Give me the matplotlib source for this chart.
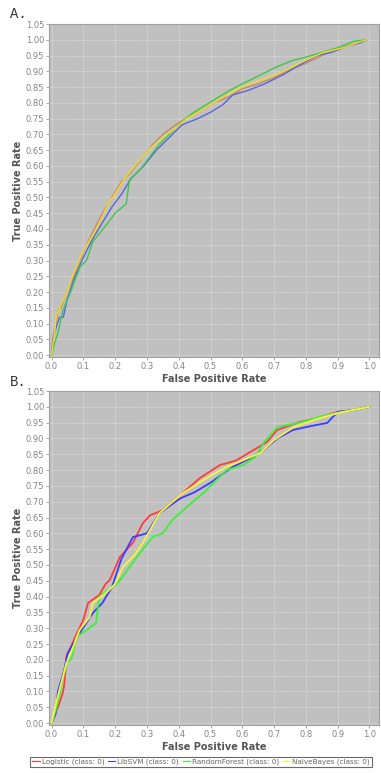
import matplotlib
matplotlib.use("Agg")
import matplotlib.pyplot as plt
import numpy as np

# ---------------- Data ----------------
# Panel A
a_log_fpr = [0.0, 0.005, 0.015, 0.02, 0.03, 0.047, 0.07, 0.1, 0.13, 0.16, 0.19, 0.22, 0.25, 0.28, 0.32, 0.35, 0.39, 0.43, 0.47, 0.51, 0.56, 0.6, 0.65, 0.7, 0.75, 0.8, 0.86, 0.92, 0.96, 0.99]
a_log_tpr = [0.0, 0.06, 0.1, 0.145, 0.15, 0.2, 0.25, 0.33, 0.39, 0.45, 0.5, 0.55, 0.58, 0.62, 0.67, 0.7, 0.73, 0.755, 0.775, 0.8, 0.82, 0.845, 0.86, 0.88, 0.905, 0.925, 0.955, 0.975, 0.99, 1.0]

a_svm_fpr = [0.0, 0.005, 0.015, 0.025, 0.037, 0.05, 0.07, 0.1, 0.13, 0.16, 0.19, 0.22, 0.25, 0.29, 0.33, 0.37, 0.41, 0.46, 0.5, 0.54, 0.57, 0.62, 0.67, 0.73, 0.78, 0.835, 0.88, 0.93, 0.97, 0.99]
a_svm_tpr = [0.0, 0.05, 0.09, 0.12, 0.12, 0.18, 0.24, 0.31, 0.37, 0.42, 0.47, 0.51, 0.56, 0.6, 0.65, 0.69, 0.73, 0.75, 0.77, 0.795, 0.825, 0.84, 0.86, 0.89, 0.92, 0.95, 0.96, 0.98, 0.99, 1.0]

a_rf_fpr = [0.0, 0.01, 0.02, 0.035, 0.06, 0.09, 0.11, 0.13, 0.17, 0.2, 0.235, 0.245, 0.28, 0.31, 0.34, 0.37, 0.4, 0.44, 0.48, 0.52, 0.57, 0.62, 0.67, 0.71, 0.76, 0.8, 0.85, 0.9, 0.95, 0.99]
a_rf_tpr = [0.0, 0.04, 0.07, 0.14, 0.2, 0.28, 0.3, 0.36, 0.41, 0.45, 0.48, 0.555, 0.59, 0.63, 0.67, 0.7, 0.73, 0.765, 0.79, 0.815, 0.845, 0.87, 0.895, 0.915, 0.935, 0.945, 0.96, 0.975, 0.995, 1.0]

a_nb_fpr = [0.0, 0.005, 0.01, 0.015, 0.03, 0.047, 0.07, 0.1, 0.13, 0.16, 0.183, 0.193, 0.23, 0.278, 0.31, 0.35, 0.39, 0.425, 0.47, 0.51, 0.55, 0.593, 0.65, 0.7, 0.74, 0.78, 0.855, 0.92, 0.96, 0.99]
a_nb_tpr = [0.0, 0.04, 0.07, 0.127, 0.16, 0.197, 0.26, 0.333, 0.38, 0.44, 0.49, 0.5, 0.56, 0.62, 0.655, 0.69, 0.72, 0.75, 0.775, 0.8, 0.825, 0.847, 0.87, 0.888, 0.905, 0.926, 0.96, 0.975, 0.99, 1.0]

# Panel B
b_log_fpr = [0.0, 0.01, 0.02, 0.035, 0.04, 0.047, 0.078, 0.1, 0.115, 0.15, 0.17, 0.183, 0.215, 0.256, 0.287, 0.31, 0.35, 0.404, 0.467, 0.53, 0.58, 0.625, 0.678, 0.71, 0.78, 0.84, 0.9, 0.95, 1.0]
b_log_tpr = [0.0, 0.03, 0.05, 0.094, 0.12, 0.21, 0.28, 0.326, 0.38, 0.405, 0.44, 0.452, 0.525, 0.57, 0.632, 0.657, 0.673, 0.72, 0.775, 0.816, 0.83, 0.857, 0.889, 0.927, 0.952, 0.965, 0.984, 0.99, 1.0]

b_svm_fpr = [0.0, 0.013, 0.02, 0.04, 0.05, 0.088, 0.13, 0.16, 0.19, 0.22, 0.256, 0.3, 0.34, 0.404, 0.45, 0.5, 0.57, 0.62, 0.666, 0.71, 0.76, 0.82, 0.867, 0.9, 0.95, 1.0]
b_svm_tpr = [0.0, 0.03, 0.10, 0.168, 0.22, 0.284, 0.348, 0.38, 0.43, 0.52, 0.588, 0.60, 0.664, 0.71, 0.73, 0.76, 0.81, 0.835, 0.863, 0.9, 0.927, 0.94, 0.949, 0.984, 0.99, 1.0]

b_rf_fpr = [0.0, 0.016, 0.047, 0.063, 0.078, 0.11, 0.14, 0.15, 0.205, 0.215, 0.25, 0.278, 0.32, 0.35, 0.38, 0.425, 0.477, 0.52, 0.552, 0.603, 0.64, 0.666, 0.71, 0.78, 0.85, 0.92, 1.0]
b_rf_tpr = [0.0, 0.05, 0.19, 0.205, 0.272, 0.294, 0.316, 0.40, 0.44, 0.452, 0.5, 0.538, 0.59, 0.60, 0.642, 0.683, 0.727, 0.77, 0.80, 0.816, 0.84, 0.885, 0.936, 0.95, 0.97, 0.985, 1.0]

b_nb_fpr = [0.0, 0.016, 0.047, 0.06, 0.088, 0.12, 0.13, 0.17, 0.2, 0.224, 0.26, 0.287, 0.34, 0.41, 0.48, 0.55, 0.6, 0.656, 0.7, 0.76, 0.83, 0.9, 0.95, 1.0]
b_nb_tpr = [0.0, 0.07, 0.19, 0.22, 0.294, 0.335, 0.38, 0.41, 0.44, 0.493, 0.53, 0.57, 0.664, 0.725, 0.77, 0.81, 0.83, 0.854, 0.895, 0.935, 0.96, 0.98, 0.99, 1.0]

legend_labels = ["Logistic (class: 0)", "LibSVM (class: 0)", "RandomForest (class: 0)", "NaiveBayes (class: 0)"]
x_ticks = [0.0, 0.1, 0.2, 0.3, 0.4, 0.5, 0.6, 0.7, 0.8, 0.9, 1.0]
y_ticks = [round(0.05 * i, 2) for i in range(22)]

colors_a = ["#c8866e", "#5a66dc", "#3ec84a", "#f2dc1e"]
colors_b = ["#ff3c3c", "#3c3cff", "#3cf03c", "#f5f53a"]

W, H = 381, 773
fig = plt.figure(figsize=(W / 100, H / 100), dpi=100)
fig.patch.set_facecolor("white")

def make_ax(top_px, bot_px):
    left, right = 49, 379
    ax = fig.add_axes([left / W, 1 - bot_px / H, (right - left) / W, (bot_px - top_px) / H])
    ax.set_facecolor("#c0c0c0")
    ax.set_xlim(-0.008, 1.03)
    ax.set_ylim(-0.006, 1.05)
    ax.set_xticks(x_ticks)
    ax.set_xticklabels([f"{v:.1f}" for v in x_ticks])
    ax.set_yticks(y_ticks)
    ax.set_yticklabels([f"{v:.2f}" for v in y_ticks])
    ax.tick_params(labelsize=6, colors="#999999", length=2, width=0.6, pad=1.5, labelcolor="#858585")
    ax.grid(True, color="#e6e6e6", linestyle=(0, (1.5, 1.5)), linewidth=0.5)
    ax.set_axisbelow(True)
    for s in ax.spines.values():
        s.set_color("#a0a0a0")
        s.set_linewidth(0.8)
    ax.set_xlabel("False Positive Rate", fontsize=7, color="#555555", labelpad=2, fontweight="bold")
    ax.set_ylabel("True Positive Rate", fontsize=7, color="#555555", labelpad=2, fontweight="bold")
    return ax

axA = make_ax(24, 357)
series_a = [(a_log_fpr, a_log_tpr), (a_svm_fpr, a_svm_tpr), (a_rf_fpr, a_rf_tpr), (a_nb_fpr, a_nb_tpr)]
for (fx, ty), c in zip(series_a, colors_a):
    axA.plot(fx, ty, color=c, linewidth=1.0)

axB = make_ax(391, 725)
series_b = [(b_log_fpr, b_log_tpr), (b_svm_fpr, b_svm_tpr), (b_rf_fpr, b_rf_tpr), (b_nb_fpr, b_nb_tpr)]
handles = []
for (fx, ty), c, lab in zip(series_b, colors_b, legend_labels):
    h, = axB.plot(fx, ty, color=c, linewidth=1.3, label=lab)
    handles.append(h)

leg = fig.legend(handles=handles, loc="center", bbox_to_anchor=(201 / W, 1 - 762 / H), ncol=4,
                 fontsize=5.2, frameon=True, fancybox=False, handlelength=1.0, handletextpad=0.3,
                 columnspacing=0.5, borderpad=0.3, labelcolor="#666666")
leg.get_frame().set_edgecolor("#444444")
leg.get_frame().set_linewidth(0.8)
for lh in leg.get_lines():
    lh.set_linewidth(0.8)

fig.text(10 / W, 1 - 14 / H, "A.", fontsize=10, family="Liberation Mono", va="center", ha="left", color="#333333")
fig.text(10 / W, 1 - 382 / H, "B.", fontsize=10, family="Liberation Mono", va="center", ha="left", color="#333333")

fig.savefig("out.png", dpi=100, facecolor="white")
